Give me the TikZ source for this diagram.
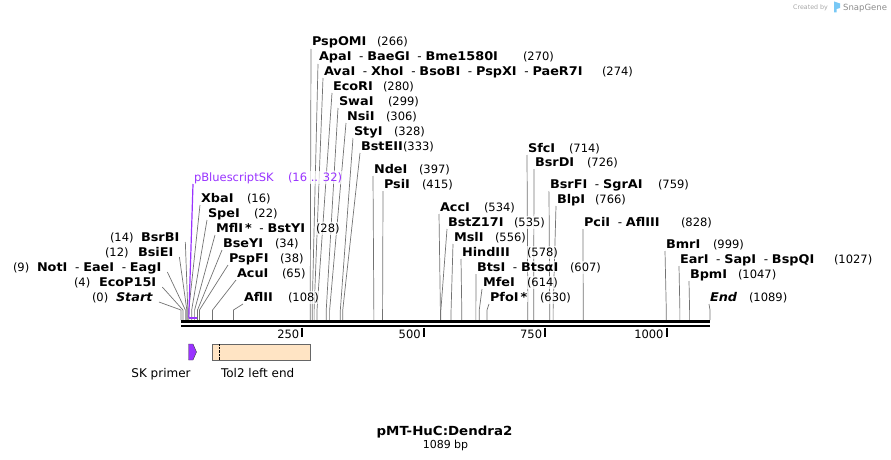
\documentclass[tikz,border=0pt]{standalone}
\usepackage{fontspec}
\setmainfont{DejaVu Sans}[BoldFeatures={FakeStretch=1.07},BoldItalicFeatures={FakeStretch=1.07}]
\usetikzlibrary{backgrounds}
\definecolor{featpurple}{RGB}{153,51,255}
\definecolor{tolfill}{RGB}{255,228,196}
\definecolor{snapblue}{RGB}{120,200,245}
\newcommand\cutsep{\textnormal{\ \ -\ }}

\begin{document}
\begin{tikzpicture}[x=1pt,y=-1pt,
        enzyme/.style={
          inner sep=1pt,outer sep=0pt,fill=white,fill opacity=.7,text opacity=1,
          font=\bfseries\fontsize{12}{12}\selectfont,anchor=base west
        },
        locus/.style={enzyme,font=\fontsize{11.5}{12}\selectfont},
        cutline/.style={black!55,line width=.7pt},
        featlabel/.style={inner sep=0pt,anchor=base,font=\fontsize{12}{12}\selectfont}
      ]
      \useasboundingbox (0,0) rectangle (891,460);

      % enzymes set to the right of their cut line
      \foreach \bp/\lx/\ly/\txt/\nx [count=\i] in {
          266/311/46/PspOMI/376,
          270/318/61/{ApaI\cutsep BaeGI\cutsep Bme1580I}/522,
          274/323/75/{AvaI\cutsep XhoI\cutsep BsoBI\cutsep PspXI\cutsep PaeR7I}/601,
          280/332/90/EcoRI/382,
          299/338/105/SwaI/387,
          306/346/120/NsiI/385,
          328/353/135/StyI/393,
          333/360/150/BstEII/402,
          397/373/173/NdeI/418,
          415/383/188/PsiI/421,
          534/439/211/AccI/483,
          535/447/226/BstZ17I/513,
          556/453/241/MslI/494,
          578/461/256/HindIII/526,
          607/476/271/{BtsI\cutsep BtsαI}/569,
          614/482/286/MfeI/526,
          630/489/301/PfoI\,*/539,
          714/527/152/SfcI/568,
          726/534/166/BsrDI/586,
          759/549/188/{BsrFI\cutsep SgrAI}/657,
          766/556/203/BlpI/594,
          828/583/226/{PciI\cutsep AflIII}/680,
          999/665/248/BmrI/712,
          1027/679/263/{EarI\cutsep SapI\cutsep BspQI}/833,
          1047/689/278/BpmI/737,
          1089/709/301/\textit{End}/748,
          16/200/202/XbaI/246,
          22/207/217/SpeI/253,
          28/215/232/{MflI\,*\cutsep BstYI}/315,
          34/222/247/BseYI/274,
          38/228/262/PspFI/279,
          65/236/277/AcuI/281,
          108/243/301/AflII/287}{
        \pgfmathsetmacro\xs{181+\bp*0.48577}
        \node [enzyme] (lbl\i) at (\lx,\ly) {\txt};
        \node [locus] (num\i) at (\nx,\ly) {(\bp)};
        \coordinate (k\i) at (\xs,310);
        \coordinate (s\i) at (\xs,320);
        \begin{pgfonlayer}{background}
          \draw [cutline] ([shift={(0,3)}]lbl\i.base west) -- (k\i) -- (s\i);
        \end{pgfonlayer}
      }

      % enzymes set to the left of their cut line
      \foreach \bp/\lx/\ly/\txt/\nx [count=\i] in {
          14/140/241/BsrBI/109,
          12/137/256/BsiEI/104,
          9/36/271/{NotI\cutsep EaeI\cutsep EagI}/12,
          4/98/286/EcoP15I/73,
          0/115/301/\textit{Start}/91}{
        \pgfmathsetmacro\xs{181+\bp*0.48577}
        \node [enzyme] (lft\i) at (\lx,\ly) {\txt};
        \node [locus] (lnum\i) at (\nx,\ly) {(\bp)};
        \coordinate (lk\i) at (\xs,310);
        \coordinate (ls\i) at (\xs,320);
        \begin{pgfonlayer}{background}
          \draw [cutline] ([shift={(5,1)}]lft\i.base east) -- (lk\i) -- (ls\i);
        \end{pgfonlayer}
      }

      % pBluescriptSK feature
      \node [locus,text=featpurple] (pbs) at (193,181) {pBluescriptSK};
      \node [locus,text=featpurple] (pbsnum) at (287,181) {(16 .. 32)};
      \coordinate (pa) at (188.8,317.5);
      \coordinate (pb) at (196.5,317.5);
      \draw [featpurple,line width=1.2pt] ([shift={(0,3)}]pbs.base west) -- (pa);
      \draw [featpurple,line width=2pt] (pa) -- (pb);

      % sequence
      \coordinate (m0) at (181,321.2);
      \coordinate (m1) at (710,321.2);
      \coordinate (n0) at (181,326);
      \coordinate (n1) at (710,326);
      \draw [line width=2.8pt] (m0) -- (m1);
      \draw [line width=2.8pt] (n0) -- (n1);
      \foreach \t [count=\i] in {250,500,750,1000} {
        \pgfmathsetmacro\xs{181+\t*0.48577}
        \draw [line width=2pt] (\xs,327.5) -- (\xs,336.5);
        \node [inner sep=0pt,anchor=base east,font=\fontsize{11.5}{12}\selectfont]
          (tk\i) at (\xs-3,338) {\t};
      }

      % features
      \draw [fill=featpurple,draw=black!75] (188.5,344) -- (193,344) -- (196.5,352)
        -- (193,360) -- (188.5,360) -- cycle;
      \draw [fill=tolfill,draw=black!60] (211.7,344) rectangle (310,360);
      \draw [densely dotted] (219.3,344) -- (219.3,360);
      \node [featlabel] (skl) at (161,377.5) {SK primer};
      \node [featlabel] (tol) at (257.7,377.5) {Tol2 left end};

      % title
      \node [inner sep=0pt,anchor=base,font=\bfseries\fontsize{12.5}{14}\selectfont]
        (ttl) at (444.5,435) {pMT-HuC:Dendra2};
      \node [inner sep=0pt,anchor=base,font=\fontsize{11}{12}\selectfont]
        (len) at (445.5,448) {1089 bp};

      % credit
      \node [inner sep=0pt,anchor=base west,text=black!35,font=\fontsize{6.3}{7}\selectfont]
        (cby) at (793,9.5) {Created by};
      \fill [snapblue] (834,1.5) -- (840,3.5) -- (840,8) -- (836.5,9) -- (836.5,12.5)
        -- (834,12.5) -- cycle;
      \node [inner sep=0pt,anchor=base west,text=black!45,font=\fontsize{8.5}{9}\selectfont]
        (sg) at (843,10.5) {SnapGene};
    \end{tikzpicture}
\end{document}
